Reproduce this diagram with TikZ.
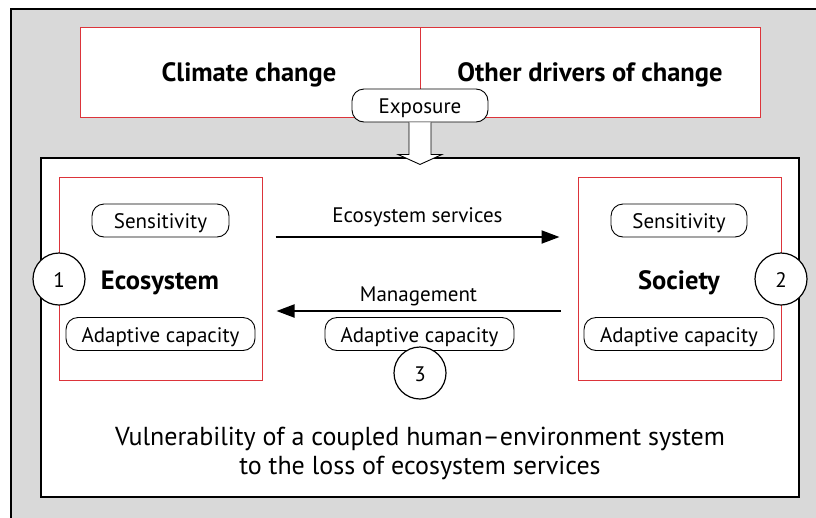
\documentclass[tikz,border=0pt]{standalone}
\usepackage{fontspec}
\setmainfont{PT Sans}
\usetikzlibrary{arrows.meta}
\definecolor{bggray}{RGB}{217,217,217}
\definecolor{boxred}{RGB}{220,52,58}
\begin{document}
\begin{tikzpicture}[x=1pt,y=-1pt,
  pill/.style={draw=black, line width=0.9pt, rounded corners=12pt, fill=white,
    minimum height=33pt, inner sep=0pt, text height=20pt, text depth=4pt,
    font=\fontsize{21}{24}\selectfont},
  redbox/.style={draw=boxred, line width=1pt, fill=white, inner sep=0pt},
  num/.style={circle, draw=black, line width=1.2pt, fill=white,
    minimum size=52pt, inner sep=0pt, text height=20pt, text depth=4pt,
    font=\fontsize{21}{24}\selectfont},
  title/.style={font=\fontsize{26.5}{30}\selectfont\bfseries, inner sep=0pt, anchor=base},
  lbl/.style={font=\fontsize{21}{24}\selectfont, inner sep=0pt, anchor=base},
  flow/.style={line width=2pt, -{Triangle[length=18pt,width=13pt]}},
  frame/.style={draw=black, line width=2.2pt, inner sep=0pt}
]
\clip (0,0) rectangle (816,517);
\useasboundingbox (0,0) rectangle (816,517);
% outer gray frame
\node[frame, fill=bggray, minimum width=819pt, minimum height=521pt] (outer) at (420.5,269.5) {};
% top driver boxes
\node[redbox, minimum width=340pt, minimum height=90pt] (climate) at (250,72) {};
\node[redbox, minimum width=340pt, minimum height=90pt] (other) at (590,72) {};
\node[title] at (249,81) {Climate change};
\node[title] at (590,81) {Other drivers of change};
% inner system box
\node[frame, line width=2pt, fill=white, minimum width=758pt, minimum height=339pt] (inner) at (420,327.5) {};
% exposure
\node[pill, minimum width=136pt] (expo) at (420,105.5) {Exposure};
\draw[line width=0.9pt, fill=white]
  ([shift={(-11,0)}]expo.south) -- ([shift={(-11,32)}]expo.south)
  -- ([shift={(-22,32)}]expo.south) -- ([shift={(0,42)}]expo.south)
  -- ([shift={(22,32)}]expo.south) -- ([shift={(11,32)}]expo.south)
  -- ([shift={(11,0)}]expo.south);
% ecosystem
\node[redbox, minimum width=203pt, minimum height=203pt] (eco) at (160.5,278.5) {};
\node[pill, minimum width=137pt] (ecosens) at (160.5,220.5) {Sensitivity};
\node[title] (ecot) at (160,289) {Ecosystem};
\node[pill, minimum width=189pt] (ecoadapt) at (160.5,334) {Adaptive capacity};
\node[num] (n1) at (59,279) {1};
% society
\node[redbox, minimum width=203pt, minimum height=203pt] (soc) at (679.5,278.5) {};
\node[pill, minimum width=136pt] (socsens) at (679,220.5) {Sensitivity};
\node[title] (soct) at (679,289) {Society};
\node[pill, minimum width=190pt] (socadapt) at (679,334) {Adaptive capacity};
\node[num] (n2) at (781,279) {2};
% flows
\draw[flow] ([shift={(13,-41.5)}]eco.east) -- ([shift={(-18,-41.5)}]soc.west)
  node[lbl, midway, yshift=15pt] {Ecosystem services};
\draw[flow] ([shift={(-17,32.5)}]soc.west) -- ([shift={(14,32.5)}]eco.east)
  node[lbl, midway, yshift=9.5pt] {Management};
\node[pill, minimum width=189pt] (midadapt) at (419.5,334) {Adaptive capacity};
\node[num] (n3) at (420,373) {3};
% caption
\node[font=\fontsize{26}{29}\selectfont, align=center, inner sep=0pt, anchor=north] (cap) at (420,427)
  {Vulnerability of a coupled human--environment system\\to the loss of ecosystem services};
\end{tikzpicture}
\end{document}
